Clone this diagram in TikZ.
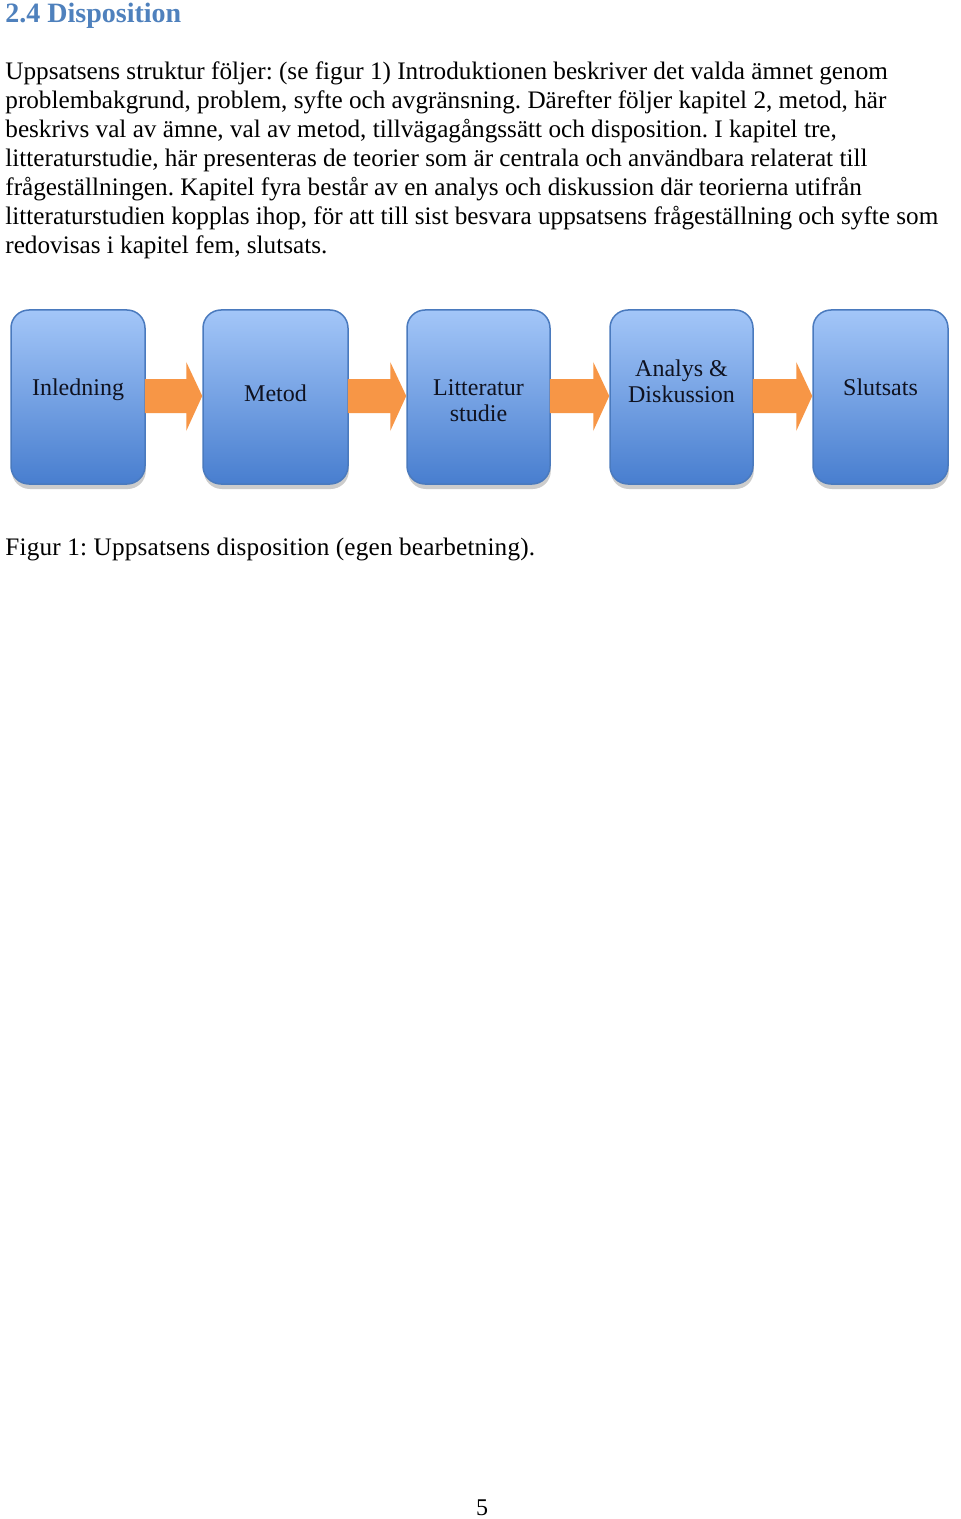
\documentclass[tikz,border=0pt]{standalone}
\usepackage{fontspec}
\setmainfont{Liberation Serif}
\usetikzlibrary{calc,shadows}
\definecolor{headblue}{RGB}{79,129,189}
\definecolor{boxtop}{RGB}{163,198,248}
\definecolor{boxbot}{RGB}{72,126,207}
\definecolor{boxline}{RGB}{74,122,190}
\definecolor{arrowc}{RGB}{247,150,70}
\definecolor{boxtext}{RGB}{15,18,32}
\frenchspacing
\tikzset{
  bodytext/.style={anchor=base west, inner sep=0pt, font=\fontsize{12.6}{14}\selectfont},
  chapbox/.style={draw=boxline, line width=0.75pt, rounded corners=9pt,
    top color=boxtop, bottom color=boxbot, minimum height=87pt,
    drop shadow={shadow xshift=0.4pt, shadow yshift=-2.5pt, opacity=0.4}},
  boxlabel/.style={anchor=base, inner sep=0pt, text=boxtext, align=center,
    font=\fontsize{12}{13}\selectfont},
  arrowfill/.style={fill=arrowc}
}
\begin{document}
\begin{tikzpicture}[x=0.5pt,y=-0.5pt]
\fill[white] (0,0) rectangle (960,1519);
\useasboundingbox (0,0) rectangle (960,1519);

\node[anchor=base west, inner sep=0pt, text=headblue, font=\fontsize{14}{16}\selectfont\bfseries] (head) at (5,23) {2.4 Disposition};

\node[bodytext] (l1) at (5,80)  {Uppsatsens struktur följer: (se figur 1) Introduktionen beskriver det valda ämnet genom};
\node[bodytext] (l2) at (5,109) {problembakgrund, problem, syfte och avgränsning. Därefter följer kapitel 2, metod, här};
\node[bodytext] (l3) at (5,138) {beskrivs val av ämne, val av metod, tillvägagångssätt och disposition. I kapitel tre,};
\node[bodytext] (l4) at (5,167) {litteraturstudie, här presenteras de teorier som är centrala och användbara relaterat till};
\node[bodytext] (l5) at (5,196) {frågeställningen. Kapitel fyra består av en analys och diskussion där teorierna utifrån};
\node[bodytext] (l6) at (5,225) {litteraturstudien kopplas ihop, för att till sist besvara uppsatsens frågeställning och syfte som};
\node[bodytext] (l7) at (5,254) {redovisas i kapitel fem, slutsats.};

\node[chapbox, minimum width=67pt]   (b1) at (78,397)    {};
\node[chapbox, minimum width=72.5pt] (b2) at (275.5,397) {};
\node[chapbox, minimum width=71.5pt] (b3) at (478.5,397) {};
\node[chapbox, minimum width=71.5pt] (b4) at (681.5,397) {};
\node[chapbox, minimum width=67.5pt] (b5) at (880.5,397) {};

\foreach \a/\b in {b1/b2,b2/b3,b3/b4,b4/b5}{
  \fill[arrowfill] ($(\a.east)+(-1,-18)$) -- ($(\b.west)+(-16,-18)$) -- ($(\b.west)+(-16,-35)$)
    -- ($(\b.west)+(0,-1)$) -- ($(\b.west)+(-16,34)$) -- ($(\b.west)+(-16,16)$)
    -- ($(\a.east)+(-1,16)$) -- cycle;
}

\node[boxlabel] (t1) at ($(b1.center)+(0,-2)$) {Inledning};
\node[boxlabel] (t2) at ($(b2.center)+(0,4)$) {Metod};
\node[boxlabel] (t3) at ($(b3.center)+(0,24)$) {Litteratur\\studie};
\node[boxlabel] (t4) at ($(b4.center)+(0,5)$) {Analys \&\\Diskussion};
\node[boxlabel] (t5) at ($(b5.center)+(0,-2)$) {Slutsats};

\node[bodytext, font=\fontsize{12.6}{14}\selectfont\addfontfeature{LetterSpace=0.8}] (cap) at (5,555) {Figur 1: Uppsatsens disposition (egen bearbetning).};
\node[anchor=base, inner sep=0pt, font=\fontsize{12}{14}\selectfont] (page) at (482,1515) {5};
\end{tikzpicture}
\end{document}
